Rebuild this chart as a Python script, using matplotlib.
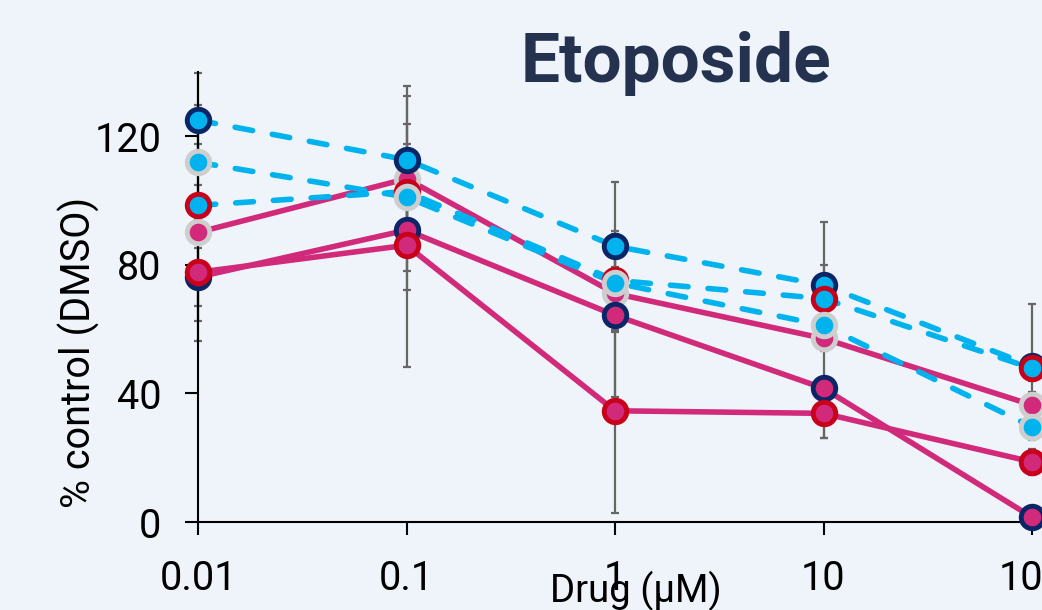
import matplotlib
matplotlib.use("Agg")
import matplotlib.pyplot as plt

plt.rcParams['font.family'] = ['Roboto', 'DejaVu Sans']

# Drug concentrations (µM) and tick labels
conc = [0.01, 0.1, 1, 10, 100]
tick_labels = ['0.01', '0.1', '1', '10', '100']
y_ticks = [0, 40, 80, 120]

# Solid series (magenta markers), % of DMSO control, with SD
mag_grey = [90.1, 106.8, 71.1, 57.1, 36.4]
mag_grey_err = [27.6, 28.8, 12.1, 4.0, 4.0]
mag_navy = [76.2, 90.8, 64.3, 41.6, 1.5]
mag_navy_err = [8.9, 18.7, 25.3, 15.4, 1.0]
mag_red = [77.7, 86.1, 34.6, 33.8, 18.7]
mag_red_err = [21.5, 37.8, 31.7, 7.6, 4.0]

# Dashed series (cyan markers)
cyan_navy = [125.0, 112.7, 85.8, 73.7, 48.5]
cyan_navy_err = [14.7, 19.7, 20.0, 19.6, 19.3]
cyan_red = [98.5, 102.8, 75.2, 69.5, 47.8]
cyan_red_err = [6.3, 14.9, 15.4, 10.4, 4.0]
cyan_grey = [111.9, 101.1, 74.4, 61.2, 29.6]
cyan_grey_err = [17.7, 8.0, 5.0, 4.0, 4.0]

MAGENTA = '#d22a7a'
CYAN = '#00b3ee'
NAVY = '#0c2566'
RED = '#c8001a'
GREY = '#cecece'
BG = '#eef4f9'

W, H = 1042, 610
fig = plt.figure(figsize=(W / 100, H / 100), dpi=100)
fig.patch.set_facecolor(BG)
ax = fig.add_axes([198 / W, 88 / H, (1032 - 198) / W, (522 - 72) / H])
ax.set_facecolor('none')

series = [
    (mag_grey, mag_grey_err, MAGENTA, GREY, '-', MAGENTA),
    (mag_navy, mag_navy_err, MAGENTA, NAVY, '-', MAGENTA),
    (mag_red, mag_red_err, MAGENTA, RED, '-', MAGENTA),
    (cyan_navy, cyan_navy_err, CYAN, NAVY, '--', CYAN),
    (cyan_red, cyan_red_err, CYAN, RED, '--', CYAN),
    (cyan_grey, cyan_grey_err, CYAN, GREY, '--', CYAN),
]

lw = 4.0
for i, (vals, err, face, edge, ls, lc) in enumerate(series):
    ax.errorbar(conc, vals, yerr=err, fmt='none', ecolor='#666666',
                elinewidth=1.6, capsize=3.2, capthick=1.6, zorder=1.5,
                clip_on=False)
    line, = ax.plot(conc, vals, linestyle=ls, color=lc, linewidth=lw,
                    zorder=2, clip_on=False, solid_capstyle='round')
    if ls == '--':
        line.set_dashes((3.2, 3.6))
        line.set_dash_capstyle('round')
    ax.plot(conc, vals, linestyle='none', marker='o', markersize=16.2,
            markerfacecolor=face, markeredgecolor=edge, markeredgewidth=3.5,
            zorder=3 + i, clip_on=False)

ax.set_xscale('log')
ax.set_xlim(0.01, 100)
ax.set_ylim(0, 140)
ax.set_xticks(conc)
ax.set_xticklabels(tick_labels)
ax.xaxis.set_minor_locator(matplotlib.ticker.NullLocator())
ax.set_yticks(y_ticks)

for side in ('top', 'right'):
    ax.spines[side].set_visible(False)
for side in ('left', 'bottom'):
    ax.spines[side].set_linewidth(1.5)
    ax.spines[side].set_color('black')

ax.tick_params(axis='both', length=9.5, width=1.5, color='black',
               labelsize=28.5, labelcolor='black')
ax.tick_params(axis='x', pad=17)
ax.tick_params(axis='y', pad=17)

ax.set_xlabel('Drug (μM)', fontsize=27.5)
ax.xaxis.set_label_coords(0.525, -0.108)
ax.set_ylabel('% control (DMSO)', fontsize=28.5)
ax.yaxis.label.set_va('center')
ax.yaxis.set_label_coords(-0.143, 0.376)

fig.text(676 / W, 1 - 82 / H, 'Etoposide', fontsize=50, fontweight='bold',
         color='#243250', ha='center', va='baseline')

fig.savefig('out.png', dpi=100, facecolor=BG)
